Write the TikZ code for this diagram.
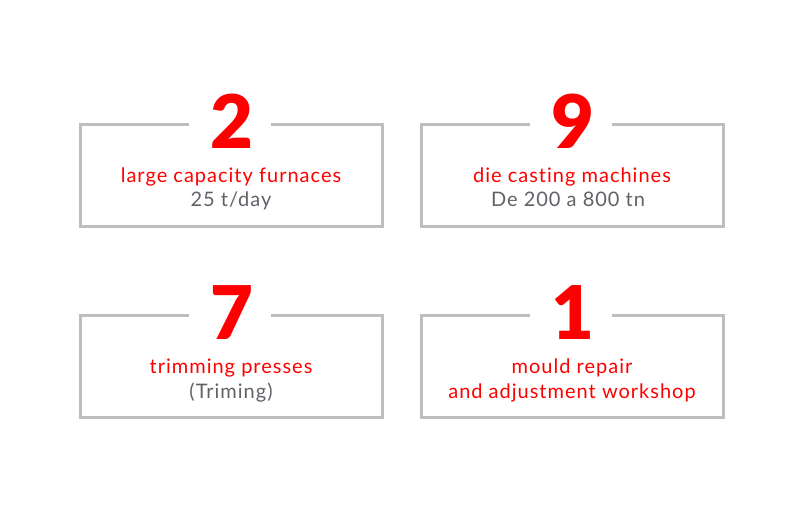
\documentclass[tikz,border=0pt]{standalone}
\usepackage{fontspec}
\setmainfont{Lato}
\newfontfamily\heavy{Lato Black}
\newfontfamily\txtfont[LetterSpace=5,Ligatures=NoCommon]{Lato}
\definecolor{boxgrey}{HTML}{BEBEC2}
\definecolor{txtgrey}{HTML}{5F6368}
\definecolor{hired}{HTML}{FF0000}
\tikzset{
  frame/.style={draw=boxgrey, line width=3pt, line join=miter},
  bignum/.style={text=hired, font=\heavy\fontsize{74}{74}\selectfont, inner sep=0pt, anchor=base},
  redtxt/.style={text=hired, font=\txtfont\fontsize{20}{24}\selectfont, inner sep=0pt, anchor=base},
  greytxt/.style={text=txtgrey, font=\txtfont\fontsize{20}{24}\selectfont, inner sep=0pt, anchor=base},
}
\newcommand{\statbox}[7]{%
  \coordinate (#1gl) at ({#2+109},#3);
  \coordinate (#1gr) at ({#2+191},#3);
  \coordinate (#1tr) at ({#2+302},#3);
  \coordinate (#1br) at ({#2+302},{#3+102});
  \coordinate (#1bl) at (#2,{#3+102});
  \coordinate (#1tl) at (#2,#3);
  \draw[frame] (#1gr) -- (#1tr) -- (#1br) -- (#1bl) -- (#1tl) -- (#1gl);
  \node[bignum] (#1num) at ({#2+152},{#3+24}) {#4};
  \node[#5] (#1l1) at ({#2+151},{#3+58}) {#6};
  #7
}
\begin{document}
\begin{tikzpicture}[x=1pt,y=-1pt]
\useasboundingbox (0,0) rectangle (803,504);
\fill[white] (0,0) rectangle (803,504);
\statbox{a}{80}{124}{2}{redtxt}{large capacity furnaces}{\node[greytxt] (al2) at (231,206) {25 t/day};}
\statbox{b}{421}{124}{9}{redtxt}{die casting machines}{\node[greytxt] (bl2) at (568,206) {De 200 a 800 tn};}
\statbox{c}{80}{315}{7}{redtxt}{trimming presses}{\node[greytxt] (cl2) at (231,398) {(Triming)};}
\statbox{d}{421}{315}{1}{redtxt}{mould repair}{\node[redtxt] (dl2) at (572,398) {and adjustment workshop};}
\end{tikzpicture}
\end{document}
